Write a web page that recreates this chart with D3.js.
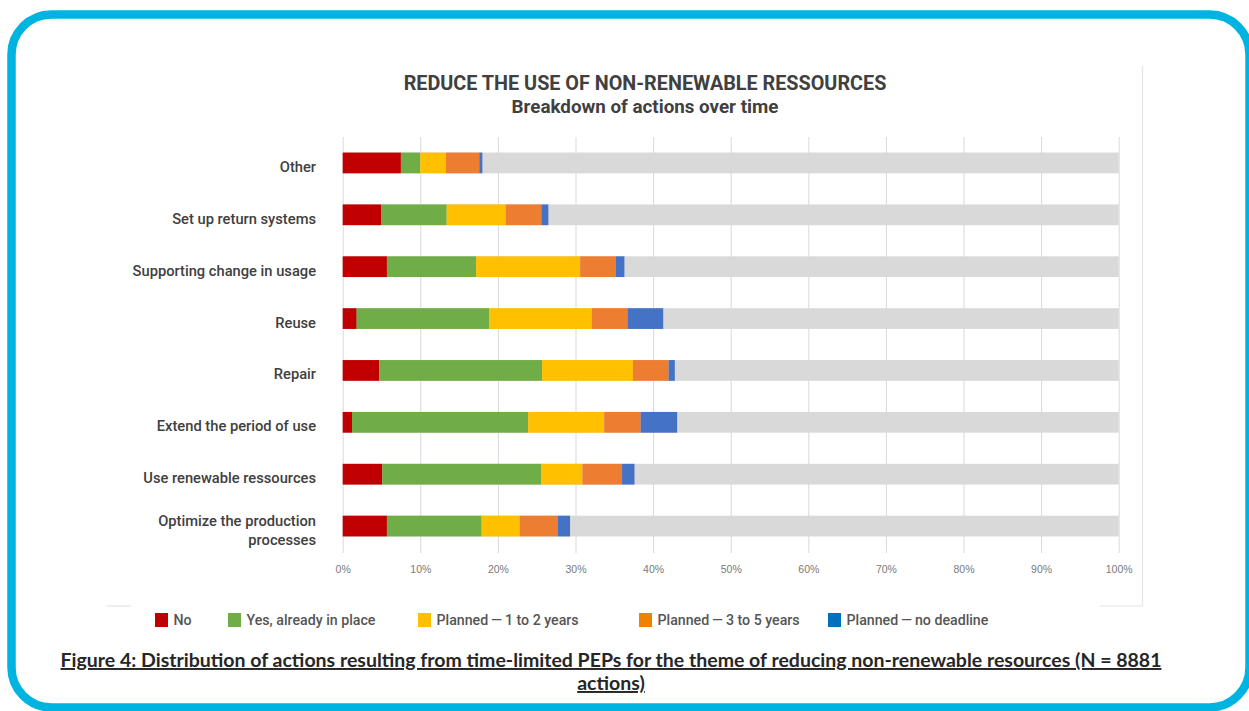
<!DOCTYPE html>
<html>
<head>
<meta charset="utf-8">
<script src="https://cdn.jsdelivr.net/npm/d3@7"></script>
<style>
  html, body { margin: 0; padding: 0; background: #fff; }
  svg { display: block; }
</style>
</head>
<body>
<svg id="chart" width="1249" height="711"></svg>
<script>
// Action themes, top to bottom
const categories = [
  "Other",
  "Set up return systems",
  "Supporting change in usage",
  "Reuse",
  "Repair",
  "Extend the period of use",
  "Use renewable ressources",
  "Optimize the production processes"
];

// Share of actions (%) per answer, same order as categories
const noValues          = [7.5, 5.0, 5.7, 1.8, 4.7, 1.2, 5.1, 5.7];
const inPlaceValues     = [2.5, 8.4, 11.5, 17.1, 21.0, 22.7, 20.5, 12.2];
const plan1to2Values    = [3.3, 7.6, 13.4, 13.2, 11.7, 9.8, 5.3, 4.9];
const plan3to5Values    = [4.3, 4.6, 4.6, 4.6, 4.6, 4.7, 5.1, 4.9];
const noDeadlineValues  = [0.4, 0.9, 1.1, 4.6, 0.8, 4.7, 1.6, 1.6];

const seriesNames = [
  "No",
  "Yes, already in place",
  "Planned\u2009\u2014\u20091 to 2 years",
  "Planned\u2009\u2014\u20093 to 5 years",
  "Planned\u2009\u2014\u2009no deadline"
];
const barColors    = ["#C00000", "#70AD47", "#FFC000", "#ED7D31", "#4472C4"];
const legendColors = ["#C00000", "#70AD47", "#FFC000", "#F08000", "#0070C0"];

const tickValues = [0, 10, 20, 30, 40, 50, 60, 70, 80, 90, 100];

const seriesValues = [noValues, inPlaceValues, plan1to2Values, plan3to5Values, noDeadlineValues];
const rows = categories.map((c, i) => {
  const r = { category: c };
  seriesNames.forEach((s, k) => { r[s] = seriesValues[k][i]; });
  return r;
});

const svg = d3.select("#chart");

// Rounded frame
svg.append("rect")
  .attr("x", 11.5).attr("y", 14.5)
  .attr("width", 1238).attr("height", 693)
  .attr("rx", 40).attr("ry", 40)
  .attr("fill", "none")
  .attr("stroke", "#00B4E1")
  .attr("stroke-width", 8.5);

// Faint outline of the chart panel
const panel = svg.append("g").attr("stroke", "#E3E3E3").attr("stroke-width", 1.2).attr("fill", "none");
panel.append("line").attr("x1", 1142.5).attr("x2", 1142.5).attr("y1", 66).attr("y2", 606);
panel.append("line").attr("x1", 1100).attr("x2", 1142.5).attr("y1", 606).attr("y2", 606);
panel.append("line").attr("x1", 107).attr("x2", 131).attr("y1", 606).attr("y2", 606);

// Titles
svg.append("text")
  .attr("x", 645).attr("y", 90)
  .attr("text-anchor", "middle")
  .attr("font-family", "Roboto, 'Liberation Sans', sans-serif")
  .attr("font-weight", 700)
  .attr("font-size", 19.8)
  .attr("fill", "#404040")
  .text("REDUCE THE USE OF NON-RENEWABLE RESSOURCES");
svg.append("text")
  .attr("x", 645).attr("y", 113)
  .attr("text-anchor", "middle")
  .attr("font-family", "Roboto, 'Liberation Sans', sans-serif")
  .attr("font-weight", 700)
  .attr("font-size", 18.8)
  .attr("fill", "#404040")
  .text("Breakdown of actions over time");

// Scales
const x = d3.scaleLinear().domain([0, 100]).range([342.7, 1118.7]);
const y = d3.scaleBand().domain(categories).range([137, 552]).paddingInner(0.6).paddingOuter(0.3);
// Category labels sit a few pixels below their bars
const yLabel = d3.scaleBand().domain(categories).range([141, 556]);

// Gridlines and percent labels
const axis = d3.axisBottom(x)
  .tickValues(tickValues)
  .tickSize(-(553 - 137))
  .tickFormat(d => d + "%");
const gAxis = svg.append("g").attr("transform", "translate(0,553)").call(axis);
gAxis.select(".domain").remove();
gAxis.selectAll(".tick line").attr("stroke", "#D9D9D9").attr("stroke-width", 1);
gAxis.selectAll(".tick text")
  .attr("y", 13)
  .attr("font-family", "'Liberation Sans', Arial, sans-serif")
  .attr("font-size", 10.5)
  .attr("fill", "#7A7A7A");

// Grey track for the remainder of each bar
svg.append("g").selectAll("rect")
  .data(categories)
  .join("rect")
  .attr("x", x(0))
  .attr("width", x(100) - x(0))
  .attr("y", d => y(d))
  .attr("height", y.bandwidth())
  .attr("fill", "#D9D9D9");

// Stacked segments
const stacked = d3.stack().keys(seriesNames)(rows);
svg.append("g").selectAll("g")
  .data(stacked)
  .join("g")
  .attr("fill", (d, i) => barColors[i])
  .selectAll("rect")
  .data(d => d)
  .join("rect")
  .attr("x", d => x(d[0]))
  .attr("width", d => x(d[1]) - x(d[0]))
  .attr("y", d => y(d.data.category))
  .attr("height", y.bandwidth());

// Category labels
const labelLines = {
  "Optimize the production processes": ["Optimize the production", "processes"]
};
const catLabels = svg.append("g")
  .attr("font-family", "Roboto, 'Liberation Sans', sans-serif")
  .attr("font-weight", 500)
  .attr("font-size", 14.7)
  .attr("fill", "#404040")
  .attr("text-anchor", "end");
categories.forEach(c => {
  const cy = yLabel(c) + yLabel.bandwidth() / 2;
  const lines = labelLines[c] || [c];
  const t = catLabels.append("text").attr("x", 316);
  lines.forEach((ln, i) => {
    t.append("tspan")
      .attr("x", 316)
      .attr("y", cy + 5 + (i - (lines.length - 1) / 2) * 19)
      .text(ln);
  });
});

// Legend
const legendX = [155, 228, 418, 639, 828];
const legend = svg.append("g");
seriesNames.forEach((s, i) => {
  legend.append("rect")
    .attr("x", legendX[i]).attr("y", 613)
    .attr("width", 13).attr("height", 14)
    .attr("fill", legendColors[i]);
  legend.append("text")
    .attr("x", legendX[i] + 18.5).attr("y", 625)
    .attr("font-family", "Roboto, 'Liberation Sans', sans-serif")
    .attr("font-weight", 500)
    .attr("font-size", 14.2)
    .attr("fill", "#555555")
    .text(s);
});

// Caption
const caption = svg.append("g")
  .attr("font-family", "Lato, 'Liberation Sans', sans-serif")
  .attr("font-weight", 700)
  .attr("font-size", 19.5)
  .attr("fill", "#262626")
  .attr("text-anchor", "middle")
  .attr("text-decoration", "underline");
caption.append("text").attr("x", 611).attr("y", 667)
  .text("Figure 4: Distribution of actions resulting from time-limited PEPs for the theme of reducing non-renewable resources (N = 8881");
caption.append("text").attr("x", 611).attr("y", 690)
  .text("actions)");
</script>
</body>
</html>
